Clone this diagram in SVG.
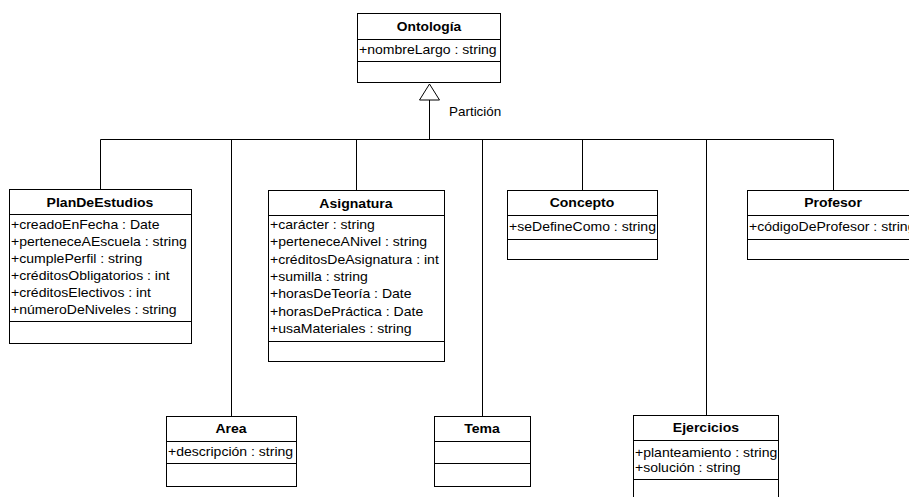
<svg xmlns="http://www.w3.org/2000/svg" width="909" height="497" viewBox="0 0 909 497">
<style>
rect{fill:#fff;stroke:#000;stroke-width:1}
line{stroke:#000;stroke-width:1}
text{font-family:"Liberation Sans",Arial,sans-serif;font-size:12px;fill:#000}
.h{font-weight:bold;text-anchor:middle}
</style>
<rect x="0" y="0" width="909" height="497" style="stroke:none"/>
<g id="connectors">
<line x1="429.5" y1="100" x2="429.5" y2="139.5"/>
<polygon points="429.5,84 419.5,100 439.5,100" fill="#fff" stroke="#000"/>
<line x1="100.5" y1="139.5" x2="833.5" y2="139.5"/>
<line x1="100.5" y1="139.5" x2="100.5" y2="189.5"/>
<line x1="231.5" y1="139.5" x2="231.5" y2="416.5"/>
<line x1="356.5" y1="139.5" x2="356.5" y2="190.5"/>
<line x1="482.5" y1="139.5" x2="482.5" y2="416.5"/>
<line x1="582.5" y1="139.5" x2="582.5" y2="190.5"/>
<line x1="706.5" y1="139.5" x2="706.5" y2="415.5"/>
<line x1="833.5" y1="139.5" x2="833.5" y2="190.5"/>
<text transform="translate(449,116) scale(1.12,1)">Partición</text>
</g>
<g id="Ontologia">
<rect x="357.5" y="13.5" width="143" height="69"/>
<line x1="357.5" y1="39.5" x2="500.5" y2="39.5"/>
<line x1="357.5" y1="61.5" x2="500.5" y2="61.5"/>
<text class="h" transform="translate(429,31) scale(1.15,1)">Ontología</text>
<text transform="translate(359,54) scale(1.17,1)">+nombreLargo : string</text>
</g>
<g id="PlanDeEstudios">
<rect x="9.5" y="189.5" width="182" height="154"/>
<line x1="9.5" y1="214.5" x2="191.5" y2="214.5"/>
<line x1="9.5" y1="321.5" x2="191.5" y2="321.5"/>
<text class="h" transform="translate(100,207) scale(1.17,1)">PlanDeEstudios</text>
<text transform="translate(11,229) scale(1.17,1)">+creadoEnFecha : Date</text>
<text transform="translate(11,246) scale(1.17,1)">+perteneceAEscuela : string</text>
<text transform="translate(11,263) scale(1.17,1)">+cumplePerfil : string</text>
<text transform="translate(11,280) scale(1.17,1)">+créditosObligatorios : int</text>
<text transform="translate(11,297) scale(1.17,1)">+créditosElectivos : int</text>
<text transform="translate(11,314) scale(1.17,1)">+númeroDeNiveles : string</text>
</g>
<g id="Asignatura">
<rect x="268.5" y="190.5" width="176" height="171"/>
<line x1="268.5" y1="215.5" x2="444.5" y2="215.5"/>
<line x1="268.5" y1="341.5" x2="444.5" y2="341.5"/>
<text class="h" transform="translate(356,208) scale(1.17,1)">Asignatura</text>
<text transform="translate(270,229) scale(1.17,1)">+carácter : string</text>
<text transform="translate(270,246) scale(1.17,1)">+perteneceANivel : string</text>
<text transform="translate(270,264) scale(1.17,1)">+créditosDeAsignatura : int</text>
<text transform="translate(270,281) scale(1.17,1)">+sumilla : string</text>
<text transform="translate(270,298) scale(1.17,1)">+horasDeTeoría : Date</text>
<text transform="translate(270,316) scale(1.17,1)">+horasDePráctica : Date</text>
<text transform="translate(270,333) scale(1.17,1)">+usaMateriales : string</text>
</g>
<g id="Concepto">
<rect x="507.5" y="190.5" width="150" height="69"/>
<line x1="507.5" y1="215.5" x2="657.5" y2="215.5"/>
<line x1="507.5" y1="239.5" x2="657.5" y2="239.5"/>
<text class="h" transform="translate(582,207) scale(1.17,1)">Concepto</text>
<text transform="translate(509,231) scale(1.17,1)">+seDefineComo : string</text>
</g>
<g id="Profesor">
<rect x="747.5" y="190.5" width="172" height="69"/>
<line x1="747.5" y1="215.5" x2="919.5" y2="215.5"/>
<line x1="747.5" y1="239.5" x2="919.5" y2="239.5"/>
<text class="h" transform="translate(833,207) scale(1.17,1)">Profesor</text>
<text transform="translate(749,231) scale(1.17,1)">+códigoDeProfesor : string</text>
</g>
<g id="Area">
<rect x="166.5" y="416.5" width="130" height="70"/>
<line x1="166.5" y1="441.5" x2="296.5" y2="441.5"/>
<line x1="166.5" y1="463.5" x2="296.5" y2="463.5"/>
<text class="h" transform="translate(231,433) scale(1.17,1)">Area</text>
<text transform="translate(168,456) scale(1.17,1)">+descripción : string</text>
</g>
<g id="Tema">
<rect x="434.5" y="416.5" width="96" height="70"/>
<line x1="434.5" y1="441.5" x2="530.5" y2="441.5"/>
<line x1="434.5" y1="463.5" x2="530.5" y2="463.5"/>
<text class="h" transform="translate(482,433) scale(1.17,1)">Tema</text>
</g>
<g id="Ejercicios">
<rect x="633.5" y="415.5" width="145" height="100"/>
<line x1="633.5" y1="440.5" x2="778.5" y2="440.5"/>
<line x1="633.5" y1="479.5" x2="778.5" y2="479.5"/>
<text class="h" transform="translate(706,432) scale(1.17,1)">Ejercicios</text>
<text transform="translate(635,457) scale(1.17,1)">+planteamiento : string</text>
<text transform="translate(635,472) scale(1.17,1)">+solución : string</text>
</g>
</svg>
